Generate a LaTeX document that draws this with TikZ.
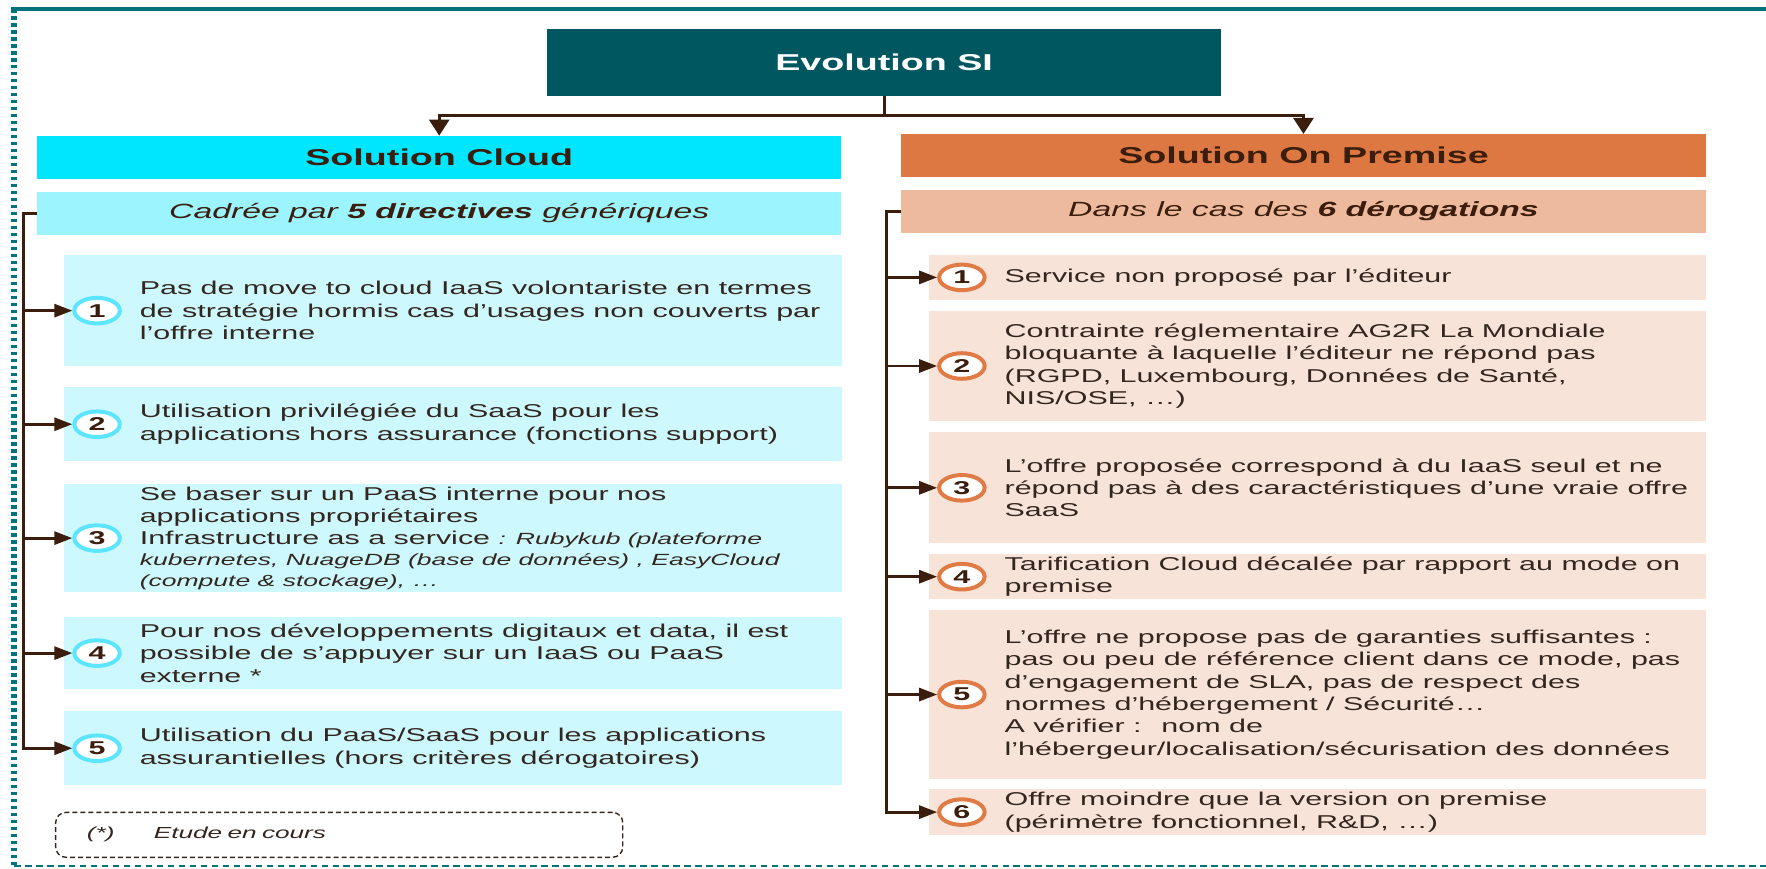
\documentclass[tikz,border=0pt]{standalone}
\usepackage{fontspec}
\setmainfont{Liberation Sans}[FakeStretch=1.64]
\usetikzlibrary{positioning,shapes.geometric,arrows.meta}

\definecolor{evoTeal}{HTML}{00575F}
\definecolor{frameTeal}{HTML}{00747B}
\definecolor{cloudHead}{HTML}{00E6FF}
\definecolor{cloudSub}{HTML}{9CF4FF}
\definecolor{cloudItem}{HTML}{CCF8FE}
\definecolor{cloudRing}{HTML}{5CE5FF}
\definecolor{premHead}{HTML}{DE7843}
\definecolor{premSub}{HTML}{EDBA9E}
\definecolor{premItem}{HTML}{F8E3D8}
\definecolor{premRing}{HTML}{E07B45}
\definecolor{darkBrown}{HTML}{3A1D0C}
\definecolor{itemText}{HTML}{33261E}

\begin{document}
\begin{tikzpicture}[node distance=0.2cm]
    \useasboundingbox (0,0) rectangle (31.08,-15.28);

    \tikzstyle{evo} = [rectangle, minimum width=11.86cm, minimum height=1.18cm, fill=evoTeal, text=white, font=\bfseries\fontsize{11.5}{13}\selectfont]
    \tikzstyle{head_box} = [rectangle, minimum width=14.15cm, minimum height=0.75cm, text=darkBrown, font=\bfseries\fontsize{11.5}{13}\selectfont]
    \tikzstyle{sub_box} = [rectangle, minimum width=14.15cm, minimum height=0.75cm, text=darkBrown, font=\itshape\fontsize{10.3}{12}\selectfont]
    \tikzstyle{cloud_item} = [rectangle, minimum width=13.68cm, inner sep=0pt, fill=cloudItem]
    \tikzstyle{prem_item} = [rectangle, minimum width=13.68cm, inner sep=0pt, fill=premItem]
    \tikzstyle{num_box} = [ellipse, minimum width=0.80cm, minimum height=0.45cm, inner sep=0pt, line width=2pt, fill=white, text=darkBrown, font=\bfseries\fontsize{9.3}{10}\selectfont]
    \tikzstyle{num_cloud} = [num_box, draw=cloudRing]
    \tikzstyle{num_prem} = [num_box, draw=premRing]
    \tikzstyle{item_text} = [inner sep=0pt, align=left, text=itemText, font=\fontsize{9.3}{11.2}\selectfont]
    \tikzstyle{footnote} = [rectangle, rounded corners=0.18cm, draw=itemText, line width=0.7pt, dash pattern=on 2.5pt off 1.5pt, text width=8.88cm, inner xsep=0.55cm, minimum height=0.79cm, align=left, text=itemText, font=\itshape\fontsize{8}{9.6}\selectfont]
    \tikzstyle{connector} = [line width=1.4pt, draw=darkBrown]
    \tikzstyle{arrow} = [connector, -{Triangle[length=9pt,width=6.5pt]}]
    \tikzstyle{arrow_down} = [connector, -{Triangle[length=8pt,width=10pt]}]

    % Rahmen
    \draw [frameTeal, line width=2pt] (0.19,-0.158) -- (31.08,-0.158);
    \draw [frameTeal, line width=3pt, dash pattern=on 1.75pt off 1.75pt] (0.246,-0.16) -- (0.246,-15.24);
    \draw [frameTeal, line width=1.4pt, dash pattern=on 3.3pt off 2.2pt] (0.246,-15.24) -- (31.08,-15.24);

            % node[Optionen](Name){Inhalt}
            \node (Evolution_SI) [evo] at (15.56,-1.10) {Evolution SI};
            \node (Junction) [coordinate, below=0.34cm of Evolution_SI] {};

            \node (Solution_Cloud) [head_box, fill=cloudHead, below=0.69cm of Evolution_SI, xshift=-7.83cm] {Solution Cloud};
            \node (Solution_On_Premise) [head_box, fill=premHead, below=0.66cm of Evolution_SI, xshift=7.38cm] {Solution On Premise};

            \node (Cadre_Cloud) [sub_box, fill=cloudSub, below=0.22cm of Solution_Cloud] {Cadrée par \textbf{5 directives} génériques};
            \node (Cadre_Premise) [sub_box, fill=premSub, below=0.22cm of Solution_On_Premise] {Dans le cas des \textbf{6 dérogations}};

            \node (Trunk_Cloud) [coordinate, left=0.23cm of Cadre_Cloud.west] {};
            \node (Trunk_Premise) [coordinate, left=0.25cm of Cadre_Premise.west] {};

            % Solution Cloud
            \node (Cloud1) [cloud_item, minimum height=1.95cm, below=0.35cm of Cadre_Cloud, xshift=0.24cm] {};
            \node (Cloud2) [cloud_item, minimum height=1.30cm, below=0.36cm of Cloud1] {};
            \node (Cloud3) [cloud_item, minimum height=1.90cm, below=0.39cm of Cloud2] {};
            \node (Cloud4) [cloud_item, minimum height=1.28cm, below=0.42cm of Cloud3] {};
            \node (Cloud5) [cloud_item, minimum height=1.30cm, below=0.37cm of Cloud4] {};

            \node (Num_Cloud1) [num_cloud, right=0.15cm of Cloud1.west] {1};
            \node (Num_Cloud2) [num_cloud, right=0.15cm of Cloud2.west] {2};
            \node (Num_Cloud3) [num_cloud, right=0.15cm of Cloud3.west] {3};
            \node (Num_Cloud4) [num_cloud, right=0.15cm of Cloud4.west] {4};
            \node (Num_Cloud5) [num_cloud, right=0.15cm of Cloud5.west] {5};

            \node (Text_Cloud1) [item_text, right=0.31cm of Num_Cloud1] {Pas de move to cloud IaaS volontariste en termes\\de stratégie hormis cas d’usages non couverts par\\l’offre interne};
            \node (Text_Cloud2) [item_text, right=0.31cm of Num_Cloud2] {Utilisation privilégiée du SaaS pour les\\applications hors assurance (fonctions support)};
            \node (Text_Cloud3) [item_text, right=0.31cm of Num_Cloud3] {Se baser sur un PaaS interne pour nos\\applications propriétaires\\Infrastructure as a service {\itshape\fontsize{8.1}{10.3}\selectfont : Rubykub (plateforme}\\[-0.85pt]{\itshape\fontsize{8.1}{10.3}\selectfont kubernetes, NuageDB (base de données) , EasyCloud}\\[-0.85pt]{\itshape\fontsize{8.1}{10.3}\selectfont (compute \& stockage), …}};
            \node (Text_Cloud4) [item_text, right=0.31cm of Num_Cloud4] {Pour nos développements digitaux et data, il est\\possible de s’appuyer sur un IaaS ou PaaS\\externe *};
            \node (Text_Cloud5) [item_text, right=0.31cm of Num_Cloud5] {Utilisation du PaaS/SaaS pour les applications\\assurantielles (hors critères dérogatoires)};

            \node (Etude) [footnote, below=0.46cm of Cloud5, xshift=-2.0cm] {(*)\hspace{0.69cm}Etude en cours};

            % Solution On Premise
            \node (Premise1) [prem_item, minimum height=0.78cm, below=0.38cm of Cadre_Premise, xshift=0.25cm] {};
            \node (Premise2) [prem_item, minimum height=1.95cm, below=0.18cm of Premise1] {};
            \node (Premise3) [prem_item, minimum height=1.95cm, below=0.18cm of Premise2] {};
            \node (Premise4) [prem_item, minimum height=0.79cm, below=0.18cm of Premise3] {};
            \node (Premise5) [prem_item, minimum height=2.97cm, below=0.18cm of Premise4] {};
            \node (Premise6) [prem_item, minimum height=0.82cm, below=0.16cm of Premise5] {};

            \node (Num_Premise1) [num_prem, right=0.15cm of Premise1.west] {1};
            \node (Num_Premise2) [num_prem, right=0.15cm of Premise2.west] {2};
            \node (Num_Premise3) [num_prem, right=0.15cm of Premise3.west] {3};
            \node (Num_Premise4) [num_prem, right=0.15cm of Premise4.west] {4};
            \node (Num_Premise5) [num_prem, right=0.15cm of Premise5.west] {5};
            \node (Num_Premise6) [num_prem, right=0.15cm of Premise6.west] {6};

            \node (Text_Premise1) [item_text, right=0.31cm of Num_Premise1] {Service non proposé par l’éditeur};
            \node (Text_Premise2) [item_text, right=0.31cm of Num_Premise2] {Contrainte réglementaire AG2R La Mondiale\\bloquante à laquelle l’éditeur ne répond pas\\(RGPD, Luxembourg, Données de Santé,\\NIS/OSE, …)};
            \node (Text_Premise3) [item_text, right=0.31cm of Num_Premise3] {L’offre proposée correspond à du IaaS seul et ne\\répond pas à des caractéristiques d’une vraie offre\\SaaS};
            \node (Text_Premise4) [item_text, right=0.31cm of Num_Premise4] {Tarification Cloud décalée par rapport au mode on\\premise};
            \node (Text_Premise5) [item_text, right=0.31cm of Num_Premise5] {L’offre ne propose pas de garanties suffisantes :\\pas ou peu de référence client dans ce mode, pas\\d’engagement de SLA, pas de respect des\\normes d’hébergement / Sécurité…\\A vérifier :~ nom de\\l’hébergeur/localisation/sécurisation des données};
            \node (Text_Premise6) [item_text, right=0.31cm of Num_Premise6] {Offre moindre que la version on premise\\(périmètre fonctionnel, R\&D, …)};

            % ----- ----- ----- ----- ----- ----- ----- ----- ----- ----- ----- ----- ----- ----- ----- -----

            \draw [arrow_down] (Evolution_SI) -- (Junction) -| (Solution_Cloud);
            \draw [arrow_down] (Junction) -| (Solution_On_Premise);

            \draw [arrow] (Cadre_Cloud.west) -- (Trunk_Cloud) |- (Num_Cloud5);
            \draw [arrow] (Trunk_Cloud |- Num_Cloud1) -- (Num_Cloud1);
            \draw [arrow] (Trunk_Cloud |- Num_Cloud2) -- (Num_Cloud2);
            \draw [arrow] (Trunk_Cloud |- Num_Cloud3) -- (Num_Cloud3);
            \draw [arrow] (Trunk_Cloud |- Num_Cloud4) -- (Num_Cloud4);

            \draw [arrow] (Cadre_Premise.west) -- (Trunk_Premise) |- (Num_Premise6);
            \draw [arrow] (Trunk_Premise |- Num_Premise1) -- (Num_Premise1);
            \draw [arrow] (Trunk_Premise |- Num_Premise2) -- (Num_Premise2);
            \draw [arrow] (Trunk_Premise |- Num_Premise3) -- (Num_Premise3);
            \draw [arrow] (Trunk_Premise |- Num_Premise4) -- (Num_Premise4);
            \draw [arrow] (Trunk_Premise |- Num_Premise5) -- (Num_Premise5);
\end{tikzpicture}
\end{document}
